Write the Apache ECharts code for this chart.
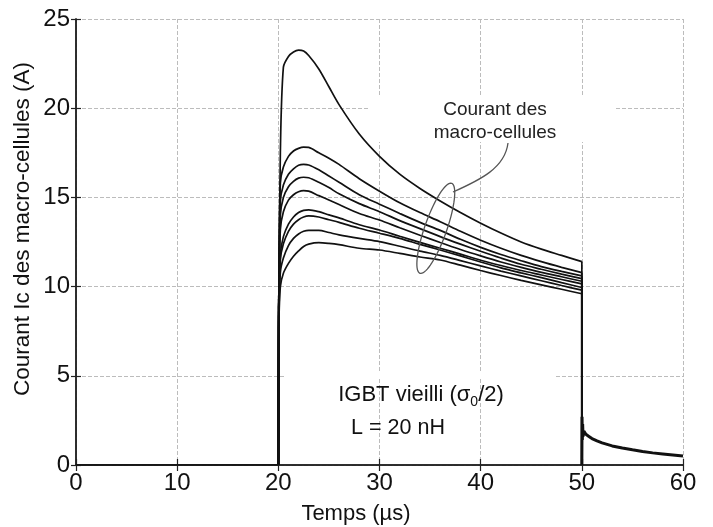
<!DOCTYPE html>
<html><head><meta charset="utf-8">
<script src="https://cdn.jsdelivr.net/npm/echarts@6/dist/echarts.min.js"></script>
<style>html,body{margin:0;padding:0;background:#fff}#c{width:713px;height:527px}</style>
</head><body><div id="c"></div>
<script>
// ---- tick labels ----
const xTicks = [0, 10, 20, 30, 40, 50, 60];
const yTicks = [0, 5, 10, 15, 20, 25];

// ---- time base for the pulse (µs) ----
const tPulse = [20, 20.05, 20.2, 20.5, 21, 21.5, 22, 22.5, 23, 24, 25, 26, 28, 30, 32, 34, 36, 38, 40, 42, 44, 46, 48, 50, 50];

// ---- macro-cell currents (A) ----
const cell0 = [0, 9, 17.5, 22.3, 22.9, 23.15, 23.25, 23.2, 22.95, 22.2, 21.2, 20.2, 18.55, 17.3, 16.3, 15.5, 14.8, 14.15, 13.55, 13.0, 12.5, 12.1, 11.75, 11.4, 0];
const cell1 = [0, 9.5, 15.8, 16.7, 17.3, 17.6, 17.75, 17.82, 17.8, 17.5, 17.2, 16.85, 16.05, 15.35, 14.7, 14.15, 13.64, 13.1, 12.6, 12.15, 11.75, 11.4, 11.08, 10.78, 0];
const cell2 = [0, 9.3, 14.8, 15.7, 16.3, 16.6, 16.8, 16.85, 16.82, 16.55, 16.2, 15.85, 15.15, 14.62, 14.1, 13.6, 13.15, 12.65, 12.2, 11.8, 11.45, 11.12, 10.85, 10.6, 0];
const cell3 = [0, 9.1, 14.0, 15.0, 15.6, 15.9, 16.08, 16.13, 16.1, 15.85, 15.55, 15.2, 14.65, 14.2, 13.7, 13.25, 12.8, 12.38, 11.98, 11.6, 11.25, 10.97, 10.7, 10.45, 0];
const cell4 = [0, 8.9, 13.2, 14.2, 14.85, 15.15, 15.32, 15.38, 15.35, 15.1, 14.85, 14.6, 14.1, 13.73, 13.3, 12.88, 12.47, 12.08, 11.72, 11.38, 11.08, 10.8, 10.55, 10.3, 0];
const cell5 = [0, 8.6, 11.8, 12.8, 13.5, 13.9, 14.15, 14.27, 14.3, 14.2, 14.02, 13.85, 13.47, 13.17, 12.82, 12.48, 12.15, 11.82, 11.48, 11.18, 10.9, 10.65, 10.4, 10.15, 0];
const cell6 = [0, 8.4, 11.5, 12.4, 13.1, 13.5, 13.75, 13.9, 13.96, 13.9, 13.75, 13.6, 13.27, 12.99, 12.7, 12.37, 12.05, 11.72, 11.38, 11.05, 10.77, 10.5, 10.22, 9.95, 0];
const cell7 = [0, 8.1, 10.8, 11.6, 12.3, 12.7, 12.95, 13.1, 13.15, 13.15, 13.03, 12.9, 12.7, 12.52, 12.26, 11.99, 11.75, 11.46, 11.16, 10.87, 10.6, 10.33, 10.06, 9.8, 0];
const cell8 = [0, 7.8, 10.0, 10.75, 11.3, 11.7, 12.0, 12.25, 12.38, 12.46, 12.42, 12.35, 12.15, 12.05, 11.86, 11.66, 11.49, 11.2, 10.9, 10.62, 10.35, 10.1, 9.85, 9.6, 0];

// ---- before the pulse / tail after turn-off ----
const tPre = [0, 20];
const vPre = [0, 0];
const tTail = [50, 50.02, 50.05, 50.08, 50.12, 50.2, 50.4, 50.7, 51, 51.5, 52, 53, 54, 55, 56, 57, 58, 59, 60];
const vTail = [0, 2.7, 1.4, 2.3, 1.6, 1.9, 1.72, 1.6, 1.48, 1.35, 1.24, 1.07, 0.95, 0.85, 0.76, 0.68, 0.62, 0.56, 0.5];

const cells = [cell0, cell1, cell2, cell3, cell4, cell5, cell6, cell7, cell8];

const FONT = '"Liberation Sans", Arial, Helvetica, sans-serif';
const chart = echarts.init(document.getElementById('c'), null, {renderer: 'canvas'});

const LS = {color: '#111', width: 1.7};
const series = [];
series.push({type: 'line', data: tPre.map((t, i) => [t, vPre[i]]), symbol: 'none', lineStyle: LS, z: 3, animation: false});
const n = tPulse.length;
cells.forEach(c => {
  const pts = tPulse.map((t, i) => [t, c[i]]);
  // sharp edges (turn-on and turn-off), straight segments
  series.push({type: 'line', data: pts.slice(0, 2), symbol: 'none', lineStyle: {color: '#111', width: 2}, z: 3, animation: false});
  series.push({type: 'line', data: pts.slice(n - 2), symbol: 'none', lineStyle: LS, z: 3, animation: false});
  // smooth body of the pulse
  series.push({type: 'line', data: pts.slice(1, n - 1), symbol: 'none', smooth: 0.3,
    lineStyle: LS, z: 3, animation: false});
});
series.push({type: 'line', data: tTail.map((t, i) => [t, vTail[i]]), symbol: 'none', lineStyle: {color: '#111', width: 3}, z: 3, animation: false});

const splitStyle = {show: true, lineStyle: {color: '#bcbcbc', width: 1, type: [4, 2]}};
const axLine = {show: true, lineStyle: {color: '#222', width: 1.5}};

// ellipse annotation points
const ell = [];
const cx = 435.8, cy = 228.3, ea = 47.7, eb = 11, th = -70.6 * Math.PI / 180;
for (let k = 0; k < 72; k++) {
  const a = k / 72 * 2 * Math.PI;
  const px = ea * Math.cos(a), py = eb * Math.sin(a);
  ell.push([cx + px * Math.cos(th) - py * Math.sin(th), cy + px * Math.sin(th) + py * Math.cos(th)]);
}

chart.setOption({
  backgroundColor: '#fff',
  animation: false,
  grid: {left: 76, right: 30, top: 19, bottom: 62, containLabel: false},
  xAxis: [
    {type: 'value', min: xTicks[0], max: xTicks[xTicks.length - 1], interval: xTicks[1] - xTicks[0], position: 'bottom',
      axisLine: axLine, axisTick: {show: true, inside: true, length: 6, lineStyle: {color: '#222', width: 1.2}},
      axisLabel: {fontSize: 24, color: '#111', fontFamily: FONT, margin: 6}, splitLine: splitStyle},
    {type: 'value', min: xTicks[0], max: xTicks[xTicks.length - 1], interval: xTicks[1] - xTicks[0], position: 'top',
      axisLine: axLine, axisTick: {show: true, inside: true, length: 6, lineStyle: {color: '#222', width: 1.2}},
      axisLabel: {show: false}, splitLine: {show: false}}
  ],
  yAxis: [
    {type: 'value', min: yTicks[0], max: yTicks[yTicks.length - 1], interval: yTicks[1] - yTicks[0], position: 'left',
      axisLine: axLine, axisTick: {show: true, inside: true, length: 5, lineStyle: {color: '#222', width: 1.2}},
      axisLabel: {fontSize: 24, color: '#111', fontFamily: FONT, margin: 6}, splitLine: splitStyle},
    {type: 'value', min: yTicks[0], max: yTicks[yTicks.length - 1], interval: yTicks[1] - yTicks[0], position: 'right',
      axisLine: axLine, axisTick: {show: true, inside: true, length: 5, lineStyle: {color: '#222', width: 1.2}},
      axisLabel: {show: false}, splitLine: {show: false}}
  ],
  series: series,
  graphic: [
    {type: 'rect', z: 1, shape: {x: 370, y: 97, width: 245, height: 45}, style: {fill: '#fff'}},
    {type: 'rect', z: 1, shape: {x: 285, y: 373, width: 270, height: 6}, style: {fill: '#fff'}},
    {type: 'polygon', z: 5, shape: {points: ell}, style: {fill: 'none', stroke: '#555', lineWidth: 1.3}},
    {type: 'bezierCurve', z: 5, shape: {x1: 453, y1: 192, cpx1: 480, cpy1: 180, cpx2: 505, cpy2: 168, x2: 508, y2: 143},
      style: {fill: 'none', stroke: '#555', lineWidth: 1.3}},
    {type: 'text', z: 6, x: 495, y: 110, style: {text: 'Courant des', font: '19px ' + FONT, fill: '#222', align: 'center', verticalAlign: 'middle'}},
    {type: 'text', z: 6, x: 495, y: 133, style: {text: 'macro-cellules', font: '19px ' + FONT, fill: '#222', align: 'center', verticalAlign: 'middle'}},
    {type: 'text', z: 6, x: 421, y: 395, style: {
      text: '{a|IGBT vieilli (σ}{b|0}{a|/2)}', align: 'center', verticalAlign: 'middle',
      rich: {a: {fontSize: 22, fontFamily: FONT, fill: '#111', color: '#111', lineHeight: 28, verticalAlign: 'middle'},
             b: {fontSize: 14, fontFamily: FONT, fill: '#111', color: '#111', lineHeight: 28, verticalAlign: 'bottom'}}}},
    {type: 'text', z: 6, x: 398, y: 428, style: {text: 'L = 20 nH', font: '21.5px ' + FONT, fill: '#111', align: 'center', verticalAlign: 'middle'}},
    {type: 'text', z: 6, x: 356, y: 514, style: {text: 'Temps (µs)', font: '22px ' + FONT, fill: '#111', align: 'center', verticalAlign: 'middle'}},
    {type: 'text', z: 6, x: 23, y: 229, rotation: Math.PI / 2, style: {text: 'Courant Ic des macro-cellules (A)', font: '22.5px ' + FONT, fill: '#111', align: 'center', verticalAlign: 'middle'}}
  ]
});
</script></body></html>
